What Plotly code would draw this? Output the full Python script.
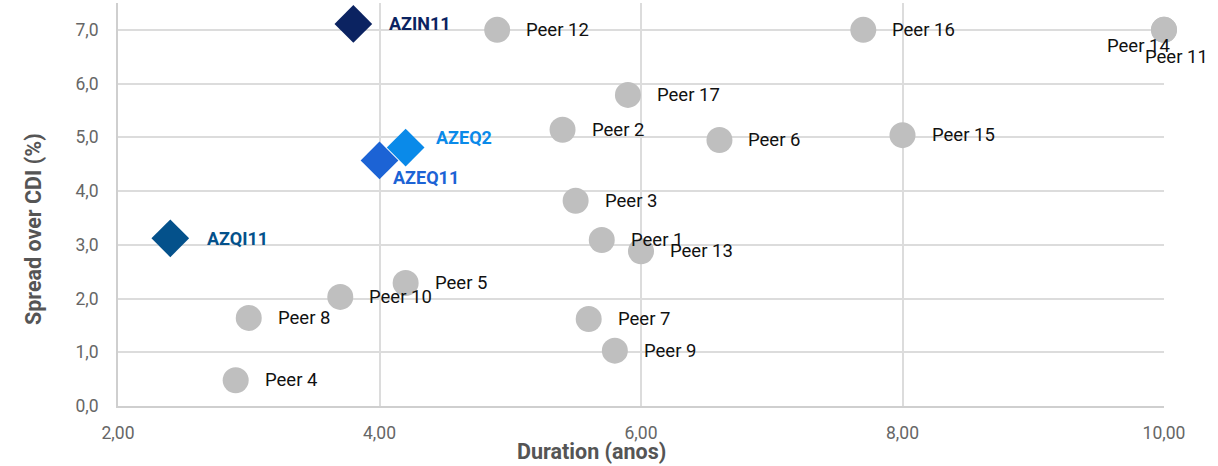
import plotly.graph_objects as go

# Peers (grey circles)
peer_names = ["Peer 1", "Peer 2", "Peer 3", "Peer 4", "Peer 5", "Peer 6", "Peer 7",
              "Peer 8", "Peer 9", "Peer 10", "Peer 11", "Peer 12", "Peer 13",
              "Peer 14", "Peer 15", "Peer 16", "Peer 17"]
peer_duration = [5.7, 5.4, 5.5, 2.9, 4.2, 6.6, 5.6, 3.0, 5.8, 3.7, 10.0, 4.9, 6.0,
                 10.0, 8.0, 7.7, 5.9]
peer_spread = [3.09, 5.14, 3.82, 0.48, 2.29, 4.95, 1.62, 1.64, 1.03, 2.03, 7.0, 7.0, 2.88,
               7.0, 5.04, 7.0, 5.79]

# Own funds (diamonds)
fund_names = ["AZIN11", "AZQI11", "AZEQ11", "AZEQ2"]
fund_duration = [3.8, 2.4, 4.0, 4.2]
fund_spread = [7.11, 3.12, 4.57, 4.81]
fund_colors = ["#0B2361", "#04518B", "#1C63D5", "#0A8AE9"]

x_ticks = [2, 4, 6, 8, 10]
y_ticks = [0, 1, 2, 3, 4, 5, 6, 7]

FONT = "Roboto"

# label offsets in pixels (style only)
peer_offsets = {"Peer 14": (-26, -16, "center"), "Peer 11": (12, -27, "center")}
fund_offsets = {"AZIN11": (34, 0), "AZQI11": (35, 0), "AZEQ11": (11, -17), "AZEQ2": (28, 10)}

fig = go.Figure()

fig.add_trace(go.Scatter(
    x=peer_duration, y=peer_spread, mode="markers", cliponaxis=False,
    marker=dict(symbol="circle", size=26, color="#BFBFBF"),
    hovertext=peer_names, showlegend=False))

for name, dx, sy, col in zip(fund_names, fund_duration, fund_spread, fund_colors):
    fig.add_trace(go.Scatter(
        x=[dx], y=[sy], mode="markers", cliponaxis=False,
        marker=dict(symbol="diamond", size=29, color=col),
        name=name, showlegend=False))

annotations = []
for name, dx, sy in zip(peer_names, peer_duration, peer_spread):
    xs, ys, anchor = peer_offsets.get(name, (27, 0, "left"))
    annotations.append(dict(
        x=dx, y=sy, xref="x", yref="y", text=name, showarrow=False,
        xanchor=anchor, yanchor="middle", xshift=xs, yshift=ys,
        font=dict(family=FONT, size=18.5, color="#111111")))

for name, dx, sy, col in zip(fund_names, fund_duration, fund_spread, fund_colors):
    xs, ys = fund_offsets[name]
    annotations.append(dict(
        x=dx, y=sy, xref="x", yref="y", text="<b>%s</b>" % name, showarrow=False,
        xanchor="left", yanchor="middle", xshift=xs, yshift=ys,
        font=dict(family=FONT, size=18, color=col)))

# axis titles
annotations.append(dict(
    x=0.453, y=0, xref="paper", yref="paper", text="<b>Duration (anos)</b>",
    showarrow=False, xanchor="center", yanchor="middle", yshift=-45,
    font=dict(family=FONT, size=21.5, color="#555555")))
annotations.append(dict(
    x=0, y=0.439, xref="paper", yref="paper", text="<b>Spread over CDI (%)</b>",
    showarrow=False, xanchor="center", yanchor="middle", xshift=-85, textangle=-90,
    font=dict(family=FONT, size=21.5, color="#555555")))

fig.update_layout(
    width=1218, height=466,
    margin=dict(l=118, r=54, t=3, b=60),
    paper_bgcolor="white", plot_bgcolor="white",
    separators=",.",
    font=dict(family=FONT, size=17.5, color="#666666"),
    annotations=annotations,
    xaxis=dict(
        range=[2, 10], tickvals=x_ticks, tickformat=".2f",
        showgrid=True, gridcolor="#DCDCDC", gridwidth=2,
        showline=True, linecolor="#CFCFCF", linewidth=2,
        zeroline=False, ticks="", ticklabelstandoff=10,
        tickfont=dict(family=FONT, size=17.5, color="#666666")),
    yaxis=dict(
        range=[0, 7.5], tickvals=y_ticks, tickformat=".1f",
        showgrid=True, gridcolor="#DCDCDC", gridwidth=2,
        showline=True, linecolor="#CFCFCF", linewidth=2,
        zeroline=False, ticks="", ticklabelstandoff=14,
        tickfont=dict(family=FONT, size=17.5, color="#666666")),
)

# the page's default body margin would push the chart 8px off the window
fig.write_html("out.html", config={"displayModeBar": False},
               post_script="document.body.style.margin='0';")
